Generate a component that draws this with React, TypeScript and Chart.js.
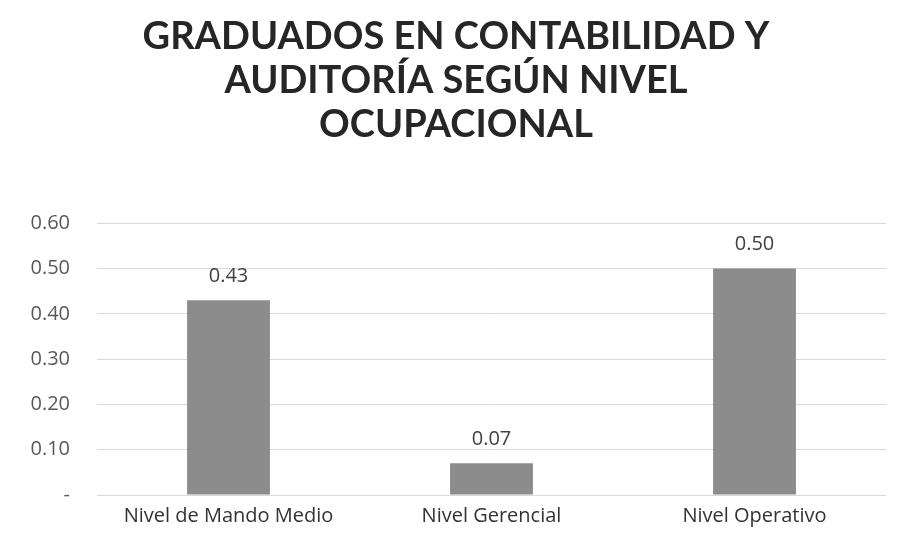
import React, { useEffect, useRef } from "react";
import { Chart, registerables } from "chart.js";

Chart.register(...registerables);

const categories = ["Nivel de Mando Medio", "Nivel Gerencial", "Nivel Operativo"];
const values = [0.43, 0.07, 0.5];
const valueLabels = ["0.43", "0.07", "0.50"];
const titleLines = ["GRADUADOS EN CONTABILIDAD Y", "AUDITORÍA SEGÚN NIVEL", "OCUPACIONAL"];

const FONT = "'Open Sans', 'Noto Sans', sans-serif";

const valueLabelPlugin = {
  id: "valueLabels",
  afterDatasetsDraw(chart: any) {
    const ctx = chart.ctx;
    const meta = chart.getDatasetMeta(0);
    ctx.save();
    ctx.font = `20px ${FONT}`;
    ctx.fillStyle = "#404040";
    ctx.textAlign = "center";
    ctx.textBaseline = "middle";
    meta.data.forEach((bar: any, i: number) => {
      ctx.fillText(valueLabels[i], bar.x, bar.y - 24);
    });
    ctx.restore();
  },
};

export default function App() {
  const ref = useRef<HTMLCanvasElement | null>(null);
  useEffect(() => {
    document.body.style.margin = "0";
    const chart = new Chart(ref.current as HTMLCanvasElement, {
      type: "bar",
      data: {
        labels: categories,
        datasets: [
          {
            data: values,
            backgroundColor: "#8c8c8c",
            barPercentage: 0.63,
            categoryPercentage: 0.5,
          },
        ],
      },
      options: {
        animation: false,
        responsive: false,
        layout: { padding: { left: 26, right: 13, top: 0, bottom: 7 } },
        plugins: {
          legend: { display: false },
          tooltip: { enabled: false },
          title: {
            display: true,
            text: titleLines,
            color: "#262626",
            font: { family: "Lato, 'Open Sans', sans-serif", size: 38, weight: "bold", lineHeight: 1.16 },
            padding: { top: 15, bottom: 76 },
          },
        },
        scales: {
          x: {
            grid: { display: false, drawTicks: false },
            border: { display: false },
            ticks: { color: "#333333", font: { family: FONT, size: 20 }, padding: 9 },
          },
          y: {
            min: 0,
            max: 0.6,
            border: { display: false },
            grid: { color: "#d9d9d9", drawTicks: false },
            afterFit: (scale: any) => {
              scale.width = 71;
            },
            ticks: {
              stepSize: 0.1,
              color: "#595959",
              font: { family: FONT, size: 20 },
              padding: 27,
              callback: (v: any) => (Math.abs(Number(v)) < 1e-9 ? "-" : Number(v).toFixed(2)),
            },
          },
        },
      },
      plugins: [valueLabelPlugin],
    });
    return () => chart.destroy();
  }, []);
  return (
    <div style={{ width: 899, height: 544, background: "#fff" }}>
      <canvas ref={ref} width={899} height={544} style={{ display: "block" }} />
    </div>
  );
}
